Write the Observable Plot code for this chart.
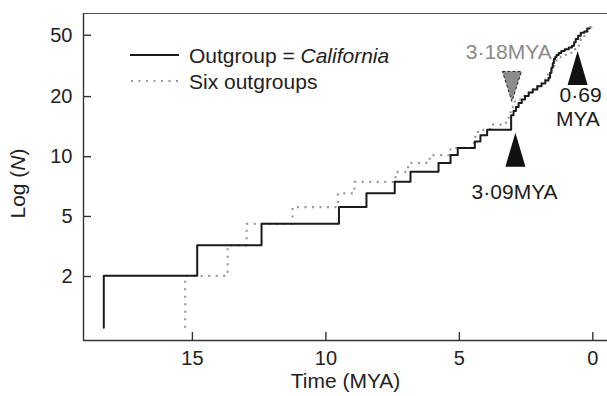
<!DOCTYPE html>
<html><head><meta charset="utf-8">
<script src="https://cdn.jsdelivr.net/npm/d3@7"></script>
<script src="https://cdn.jsdelivr.net/npm/@observablehq/plot@0.6"></script>
<style>
body{margin:0;background:#fff;overflow:hidden}
#chart{position:relative;width:607px;height:396px}
svg{font-family:"Liberation Sans", Arial, Helvetica, sans-serif}
</style></head><body><div id="chart"></div>
<script>
// Lineage-through-time steps (time in MYA, number of lineages N)
const californiaTime = [18.32, 18.32, 14.82, 12.41, 9.51, 8.48, 7.42, 6.83, 5.78, 5.33, 5.06, 4.42, 4.21, 3.96, 3.06, 2.97, 2.88, 2.78, 2.66, 2.54, 2.40, 2.25, 2.08, 1.92, 1.78, 1.66, 1.60, 1.55, 1.50, 1.46, 1.41, 1.36, 1.28, 1.18, 1.05, 0.90, 0.78, 0.70, 0.64, 0.55, 0.45, 0.32, 0.21, 0.12];
const californiaN    = [1, 2, 3, 4, 5, 6, 7, 8, 9, 10, 11, 12, 13, 14, 17, 18, 19, 20, 21, 22, 23, 24, 25, 26, 27, 28, 30, 32, 34, 36, 37, 38, 39, 40, 41, 42, 43, 45, 47, 49, 51, 52, 54, 54];
const sixTime = [15.27, 15.27, 13.68, 12.97, 11.25, 9.55, 8.93, 7.39, 6.92, 6.11, 5.33, 4.45, 4.40, 4.30, 3.85, 3.25, 3.15, 3.08, 3.00, 2.92, 2.70, 2.50, 2.32, 2.15, 2.02, 1.90, 1.78, 1.68, 1.55, 1.45, 1.36, 1.20, 1.06, 0.88, 0.70, 0.60, 0.52, 0.45, 0.40, 0.30, 0.20, 0.12, 0.05, 0.0];
const sixN    = [1, 2, 3, 4, 5, 6, 7, 8, 9, 10, 11, 12, 13, 14, 15, 16, 17, 18, 19, 21, 22, 23, 24, 25, 26, 27, 28, 30, 32, 34, 36, 37, 38, 39, 41, 43, 45, 47, 49, 51, 53, 55, 56, 56];

const xTicks = [15, 10, 5, 0];
const yTickValues = [1.98, 4.41, 9.78, 21.8, 49.4];
const yTickLabels = ["2", "5", "10", "20", "50"];
const xDomain = [19.08, -0.55];
const yDomain = [0.844, 66];

// annotations
const upArrowTime = [2.90, 0.57];
const upArrowN = [10.75, 31.96];
const downArrowTime = [3.03];
const downArrowN = [24.96];
const blackLabels = ["3·09MYA", "0·69", "MYA"];
const blackLabelTime = [2.93, 0.46, 0.56];
const blackLabelN = [6.1, 22.1, 16.2];
const grayLabels = ["3·18MYA"];
const grayLabelTime = [3.15];
const grayLabelN = [39.4];

const cal = californiaTime.map((t, i) => ({t, n: californiaN[i]}));
const six = sixTime.map((t, i) => ({t, n: sixN[i]}));

const W = 607, H = 396, mL = 83, mR = 0, mT = 13, mB = 56;
const fw = W - mL - mR, fh = H - mT - mB;

const upSym = {draw(c){ c.moveTo(0,-17); c.lineTo(10,17); c.lineTo(-10,17); c.closePath(); }};
const downSym = {draw(c){ c.moveTo(-9.5,-15); c.lineTo(9.5,-15); c.lineTo(0,15); c.closePath(); }};
const FS = 20, FS2 = 21;
const axisColor = "#333";

const plot = Plot.plot({
  width: W, height: H,
  marginLeft: mL, marginRight: mR, marginTop: mT, marginBottom: mB,
  style: {fontFamily: '"Liberation Sans", Arial, sans-serif', fontSize: FS + "px", color: "#222", background: "#fff"},
  x: {domain: xDomain},
  y: {type: "log", domain: yDomain},
  marks: [
    Plot.ruleY([yDomain[1]], {stroke: "#555", strokeWidth: 1.2}),
    Plot.ruleY([yDomain[0]], {stroke: axisColor, strokeWidth: 1.4}),
    Plot.ruleX([xDomain[0]], {stroke: axisColor, strokeWidth: 1.4}),
    Plot.tickX(xTicks, {x: d => d, insetTop: fh - 8, stroke: axisColor, strokeWidth: 1.4}),
    Plot.tickY(yTickValues, {y: d => d, insetRight: fw - 8, stroke: axisColor, strokeWidth: 1.4}),
    Plot.axisX(xTicks, {tickSize: 0, tickPadding: 10, fontSize: FS, label: null, tickFormat: d => String(d)}),
    Plot.axisY(yTickValues, {tickSize: 0, tickPadding: 11, fontSize: FS, label: null, tickFormat: d => yTickLabels[yTickValues.indexOf(d)]}),
    Plot.line(six, {x: "t", y: "n", curve: "step-after", stroke: "#999", strokeWidth: 2.2, strokeDasharray: "2,5.5", strokeLinecap: "butt"}),
    Plot.line(cal, {x: "t", y: "n", curve: "step-after", stroke: "#1a1a1a", strokeWidth: 2}),
    Plot.dot(upArrowTime, {x: d => d, y: (d, i) => upArrowN[i], symbol: upSym, fill: "#111", stroke: "none", r: 10}),
    Plot.dot(downArrowTime, {x: d => d, y: (d, i) => downArrowN[i], symbol: downSym, fill: "#8c8c8c", stroke: "#222", strokeWidth: 1, strokeDasharray: "3,2", r: 10}),
    Plot.text(blackLabels, {x: (d, i) => blackLabelTime[i], y: (d, i) => blackLabelN[i], text: d => d, fill: "#1a1a1a", fontSize: FS2}),
    Plot.text(grayLabels, {x: (d, i) => grayLabelTime[i], y: (d, i) => grayLabelN[i], text: d => d, fill: "#8a8a8a", fontSize: FS2}),
    Plot.text(["Time (MYA)"], {frameAnchor: "bottom", lineAnchor: "middle", dy: 41, fontSize: FS2, fill: "#222"})
  ]
});

document.getElementById("chart").appendChild(plot);
const svg = d3.select(plot);
// y axis title with italic N
const yt = svg.append("text")
  .attr("transform", `translate(17,${mT + fh/2 + 7}) rotate(-90)`)
  .attr("text-anchor", "middle").attr("dominant-baseline", "central")
  .attr("font-size", FS2).attr("fill", "#222");
yt.append("tspan").text("Log (");
yt.append("tspan").attr("font-style", "italic").text("N");
yt.append("tspan").text(")");

// legend
const lg = svg.append("g").attr("text-anchor", "start");
lg.append("line").attr("x1", 130).attr("x2", 179).attr("y1", 55).attr("y2", 55).attr("stroke", "#1a1a1a").attr("stroke-width", 2);
lg.append("line").attr("x1", 131).attr("x2", 179).attr("y1", 81).attr("y2", 81).attr("stroke", "#999").attr("stroke-width", 2.2).attr("stroke-dasharray", "2,5.5");
const l1 = lg.append("text").attr("x", 189).attr("y", 55).attr("text-anchor", "start").attr("dominant-baseline", "central").attr("font-size", FS2).attr("fill", "#222");
l1.append("tspan").text("Outgroup = ");
l1.append("tspan").attr("font-style", "italic").text("California");
lg.append("text").attr("x", 189).attr("y", 81).attr("text-anchor", "start").attr("dominant-baseline", "central").attr("font-size", FS2).attr("fill", "#222").text("Six outgroups");
</script></body></html>
